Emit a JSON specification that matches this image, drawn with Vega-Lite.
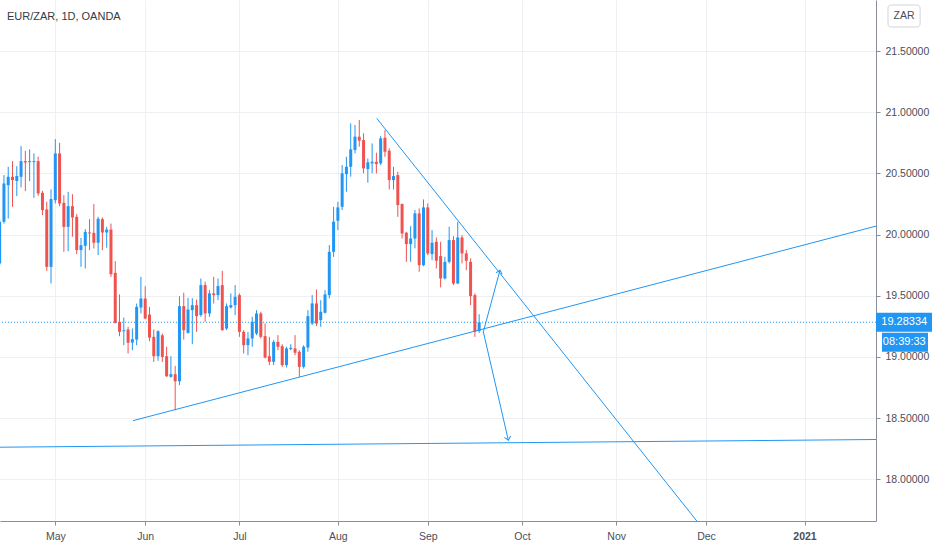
{
  "$schema": "https://vega.github.io/schema/vega-lite/v6.json",
  "autosize": {"type": "none"},
  "width": 876,
  "height": 521,
  "padding": {"left": 0, "top": 0, "right": 56, "bottom": 29},
  "background": "#ffffff",
  "config": {"view": {"stroke": null}},
  "title": {
    "text": "EUR/ZAR, 1D, OANDA",
    "anchor": "start",
    "frame": "group",
    "offset": -22,
    "dx": 7,
    "font": "Liberation Sans",
    "fontSize": 11,
    "fontWeight": "normal",
    "color": "#363a45"
  },
  "datasets": {
    "candles": [
      {"t": -13, "o": 19.763, "h": 20.123, "l": 19.750, "c": 20.104},
      {"t": -12, "o": 20.104, "h": 20.486, "l": 20.090, "c": 20.418},
      {"t": -11, "o": 20.404, "h": 20.554, "l": 20.131, "c": 20.472},
      {"t": -10, "o": 20.472, "h": 20.600, "l": 20.227, "c": 20.445},
      {"t": -9, "o": 20.437, "h": 20.559, "l": 20.314, "c": 20.478},
      {"t": -8, "o": 20.472, "h": 20.723, "l": 20.385, "c": 20.600},
      {"t": -7, "o": 20.600, "h": 20.685, "l": 20.355, "c": 20.589},
      {"t": -6, "o": 20.592, "h": 20.696, "l": 20.437, "c": 20.600},
      {"t": -5, "o": 20.592, "h": 20.663, "l": 20.300, "c": 20.600},
      {"t": -4, "o": 20.600, "h": 20.636, "l": 20.317, "c": 20.336},
      {"t": -3, "o": 20.341, "h": 20.358, "l": 20.159, "c": 20.200},
      {"t": -2, "o": 20.205, "h": 20.268, "l": 19.704, "c": 19.736},
      {"t": -1, "o": 19.736, "h": 20.369, "l": 19.600, "c": 20.290},
      {"t": 0, "o": 20.281, "h": 20.780, "l": 20.254, "c": 20.663},
      {"t": 1, "o": 20.663, "h": 20.750, "l": 20.232, "c": 20.254},
      {"t": 2, "o": 20.259, "h": 20.322, "l": 19.859, "c": 20.063},
      {"t": 3, "o": 20.063, "h": 20.349, "l": 19.864, "c": 20.232},
      {"t": 4, "o": 20.232, "h": 20.330, "l": 19.982, "c": 20.140},
      {"t": 5, "o": 20.145, "h": 20.167, "l": 19.840, "c": 19.873},
      {"t": 6, "o": 19.873, "h": 19.973, "l": 19.736, "c": 19.913},
      {"t": 7, "o": 19.908, "h": 20.044, "l": 19.723, "c": 20.022},
      {"t": 8, "o": 20.017, "h": 20.126, "l": 19.873, "c": 20.009},
      {"t": 9, "o": 20.014, "h": 20.249, "l": 19.886, "c": 19.933},
      {"t": 10, "o": 19.933, "h": 20.145, "l": 19.832, "c": 20.129},
      {"t": 11, "o": 20.126, "h": 20.140, "l": 19.873, "c": 20.017},
      {"t": 12, "o": 20.017, "h": 20.063, "l": 19.892, "c": 20.041},
      {"t": 13, "o": 20.041, "h": 20.090, "l": 19.654, "c": 19.676},
      {"t": 14, "o": 19.687, "h": 19.783, "l": 19.273, "c": 19.278},
      {"t": 15, "o": 19.287, "h": 19.510, "l": 19.169, "c": 19.205},
      {"t": 16, "o": 19.210, "h": 19.322, "l": 19.096, "c": 19.218},
      {"t": 17, "o": 19.224, "h": 19.246, "l": 19.028, "c": 19.115},
      {"t": 18, "o": 19.117, "h": 19.232, "l": 19.055, "c": 19.145},
      {"t": 19, "o": 19.142, "h": 19.436, "l": 19.096, "c": 19.409},
      {"t": 20, "o": 19.404, "h": 19.655, "l": 19.355, "c": 19.477},
      {"t": 21, "o": 19.477, "h": 19.578, "l": 19.308, "c": 19.314},
      {"t": 22, "o": 19.346, "h": 19.409, "l": 19.128, "c": 19.158},
      {"t": 23, "o": 19.164, "h": 19.224, "l": 18.959, "c": 19.006},
      {"t": 24, "o": 19.006, "h": 19.218, "l": 18.968, "c": 19.210},
      {"t": 25, "o": 19.177, "h": 19.191, "l": 18.959, "c": 19.000},
      {"t": 26, "o": 19.006, "h": 19.082, "l": 18.837, "c": 18.842},
      {"t": 27, "o": 18.837, "h": 19.006, "l": 18.831, "c": 18.859},
      {"t": 28, "o": 18.859, "h": 18.927, "l": 18.564, "c": 18.801},
      {"t": 29, "o": 18.801, "h": 19.496, "l": 18.769, "c": 19.415},
      {"t": 30, "o": 19.415, "h": 19.524, "l": 19.142, "c": 19.218},
      {"t": 31, "o": 19.197, "h": 19.483, "l": 19.191, "c": 19.387},
      {"t": 32, "o": 19.382, "h": 19.480, "l": 19.104, "c": 19.423},
      {"t": 33, "o": 19.423, "h": 19.469, "l": 19.205, "c": 19.333},
      {"t": 34, "o": 19.342, "h": 19.641, "l": 19.328, "c": 19.587},
      {"t": 35, "o": 19.587, "h": 19.614, "l": 19.287, "c": 19.355},
      {"t": 36, "o": 19.355, "h": 19.546, "l": 19.328, "c": 19.519},
      {"t": 37, "o": 19.519, "h": 19.655, "l": 19.437, "c": 19.505},
      {"t": 38, "o": 19.505, "h": 19.641, "l": 19.464, "c": 19.579},
      {"t": 39, "o": 19.587, "h": 19.704, "l": 19.213, "c": 19.219},
      {"t": 40, "o": 19.232, "h": 19.437, "l": 19.219, "c": 19.415},
      {"t": 41, "o": 19.404, "h": 19.519, "l": 19.396, "c": 19.423},
      {"t": 42, "o": 19.423, "h": 19.587, "l": 19.342, "c": 19.491},
      {"t": 43, "o": 19.505, "h": 19.519, "l": 19.164, "c": 19.205},
      {"t": 44, "o": 19.205, "h": 19.219, "l": 19.028, "c": 19.096},
      {"t": 45, "o": 19.096, "h": 19.205, "l": 19.014, "c": 19.151},
      {"t": 46, "o": 19.151, "h": 19.328, "l": 19.083, "c": 19.287},
      {"t": 47, "o": 19.192, "h": 19.382, "l": 19.178, "c": 19.355},
      {"t": 48, "o": 19.355, "h": 19.369, "l": 19.151, "c": 19.164},
      {"t": 49, "o": 19.170, "h": 19.273, "l": 18.987, "c": 18.995},
      {"t": 50, "o": 19.006, "h": 19.164, "l": 18.933, "c": 18.960},
      {"t": 51, "o": 18.960, "h": 19.137, "l": 18.933, "c": 19.123},
      {"t": 52, "o": 19.123, "h": 19.178, "l": 19.055, "c": 19.083},
      {"t": 53, "o": 19.088, "h": 19.104, "l": 18.919, "c": 18.933},
      {"t": 54, "o": 18.933, "h": 19.083, "l": 18.914, "c": 19.069},
      {"t": 55, "o": 19.064, "h": 19.104, "l": 19.055, "c": 19.074},
      {"t": 56, "o": 19.069, "h": 19.178, "l": 19.014, "c": 19.034},
      {"t": 57, "o": 19.042, "h": 19.055, "l": 18.837, "c": 18.919},
      {"t": 58, "o": 18.919, "h": 19.096, "l": 18.905, "c": 19.083},
      {"t": 59, "o": 19.077, "h": 19.382, "l": 19.042, "c": 19.333},
      {"t": 60, "o": 19.273, "h": 19.505, "l": 19.260, "c": 19.437},
      {"t": 61, "o": 19.437, "h": 19.551, "l": 19.252, "c": 19.273},
      {"t": 62, "o": 19.301, "h": 19.464, "l": 19.246, "c": 19.369},
      {"t": 63, "o": 19.361, "h": 19.546, "l": 19.355, "c": 19.511},
      {"t": 64, "o": 19.505, "h": 19.914, "l": 19.478, "c": 19.859},
      {"t": 65, "o": 19.859, "h": 20.227, "l": 19.818, "c": 20.105},
      {"t": 66, "o": 20.113, "h": 20.268, "l": 20.036, "c": 20.222},
      {"t": 67, "o": 20.227, "h": 20.568, "l": 20.200, "c": 20.500},
      {"t": 68, "o": 20.494, "h": 20.636, "l": 20.350, "c": 20.554},
      {"t": 69, "o": 20.554, "h": 20.909, "l": 20.473, "c": 20.696},
      {"t": 70, "o": 20.691, "h": 20.895, "l": 20.663, "c": 20.800},
      {"t": 71, "o": 20.800, "h": 20.936, "l": 20.718, "c": 20.767},
      {"t": 72, "o": 20.772, "h": 20.827, "l": 20.500, "c": 20.541},
      {"t": 73, "o": 20.535, "h": 20.622, "l": 20.424, "c": 20.590},
      {"t": 74, "o": 20.582, "h": 20.745, "l": 20.500, "c": 20.595},
      {"t": 75, "o": 20.595, "h": 20.669, "l": 20.500, "c": 20.576},
      {"t": 76, "o": 20.582, "h": 20.805, "l": 20.568, "c": 20.786},
      {"t": 77, "o": 20.791, "h": 20.854, "l": 20.636, "c": 20.677},
      {"t": 78, "o": 20.685, "h": 20.704, "l": 20.369, "c": 20.445},
      {"t": 79, "o": 20.445, "h": 20.554, "l": 20.369, "c": 20.478},
      {"t": 80, "o": 20.486, "h": 20.513, "l": 20.145, "c": 20.241},
      {"t": 81, "o": 20.249, "h": 20.254, "l": 19.968, "c": 20.009},
      {"t": 82, "o": 20.015, "h": 20.023, "l": 19.777, "c": 19.922},
      {"t": 83, "o": 19.922, "h": 20.069, "l": 19.777, "c": 19.968},
      {"t": 84, "o": 19.968, "h": 20.200, "l": 19.887, "c": 20.173},
      {"t": 85, "o": 20.173, "h": 20.214, "l": 19.696, "c": 19.750},
      {"t": 86, "o": 19.750, "h": 20.287, "l": 19.742, "c": 20.222},
      {"t": 87, "o": 20.222, "h": 20.254, "l": 19.832, "c": 19.846},
      {"t": 88, "o": 19.840, "h": 20.036, "l": 19.791, "c": 19.933},
      {"t": 89, "o": 19.941, "h": 19.976, "l": 19.723, "c": 19.786},
      {"t": 90, "o": 19.824, "h": 19.941, "l": 19.568, "c": 19.641},
      {"t": 91, "o": 19.641, "h": 19.818, "l": 19.633, "c": 19.777},
      {"t": 92, "o": 19.777, "h": 20.064, "l": 19.764, "c": 19.955},
      {"t": 93, "o": 19.955, "h": 19.987, "l": 19.587, "c": 19.600},
      {"t": 94, "o": 19.600, "h": 20.104, "l": 19.595, "c": 19.976},
      {"t": 95, "o": 19.976, "h": 19.995, "l": 19.764, "c": 19.846},
      {"t": 96, "o": 19.846, "h": 19.873, "l": 19.709, "c": 19.786},
      {"t": 97, "o": 19.777, "h": 19.805, "l": 19.423, "c": 19.497},
      {"t": 98, "o": 19.505, "h": 19.519, "l": 19.164, "c": 19.205},
      {"t": 99, "o": 19.211, "h": 19.349, "l": 19.197, "c": 19.283}
    ],
    "lines": [
      {"id": "support", "t": 18.15, "p": 18.479},
      {"id": "support", "t": 191.7, "p": 20.069},
      {"id": "resistance", "t": 75.08, "p": 20.950},
      {"id": "resistance", "t": 152, "p": 17.564},
      {"id": "floor", "t": -12.92, "p": 18.262},
      {"id": "floor", "t": 191.7, "p": 18.325},
      {"id": "up", "t": 99.98, "p": 19.205},
      {"id": "up", "t": 103.87, "p": 19.709},
      {"id": "down", "t": 99.98, "p": 19.205},
      {"id": "down", "t": 105.82, "p": 18.319}
    ],
    "heads": [
      {"id": "up", "t": 103.87, "p": 19.709},
      {"id": "down", "t": 105.82, "p": 18.319}
    ],
    "price": [
      {"p": 19.28334, "label": "19.28334", "timer": "08:39:33"}
    ]
  },
  "layer": [
    {
      "data": {"name": "candles"},
      "mark": {"type": "rule", "strokeWidth": 1, "clip": true},
      "encoding": {
        "x": {
          "field": "t",
          "type": "quantitative",
          "scale": {"domain": [-12.92, 191.7], "nice": false, "zero": false, "padding": 0},
          "axis": {
            "values": [0, 21, 43, 66, 87, 109, 131, 152, 175],
            "labelExpr": "['May','Jun','Jul','Aug','Sep','Oct','Nov','Dec','2021'][indexof([0,21,43,66,87,109,131,152,175], datum.value)]",
            "labelFontWeight": {"condition": {"test": "datum.value == 175", "value": "bold"}, "value": "normal"},
            "title": null,
            "grid": true,
            "gridColor": "#eef0f4",
            "domainColor": "#8a8e99",
            "tickColor": "#8a8e99",
            "tickSize": 4,
            "labelPadding": 6,
            "labelColor": "#4a4e59",
            "labelFont": "Liberation Sans",
            "labelFontSize": 10.5,
            "labelFlush": false,
            "labelOverlap": false
          }
        },
        "y": {
          "field": "l",
          "type": "quantitative",
          "scale": {"domain": [17.659, 21.917], "nice": false, "zero": false, "padding": 0},
          "axis": {
            "orient": "right",
            "values": [18, 18.5, 19, 19.5, 20, 20.5, 21, 21.5],
            "format": ".5f",
            "title": null,
            "grid": true,
            "gridColor": "#eef0f4",
            "domainColor": "#8a8e99",
            "tickColor": "#8a8e99",
            "tickSize": 4,
            "labelPadding": 5,
            "labelColor": "#4a4e59",
            "labelFont": "Liberation Sans",
            "labelFontSize": 10.5,
            "labelFlush": false,
            "labelOverlap": false
          }
        },
        "y2": {"field": "h"},
        "color": {"condition": {"test": "datum.c >= datum.o", "value": "#2196F3"}, "value": "#EF5350"}
      }
    },
    {
      "data": {"name": "candles"},
      "mark": {"type": "bar", "size": 3, "clip": true},
      "encoding": {
        "x": {"field": "t", "type": "quantitative"},
        "y": {"field": "o", "type": "quantitative"},
        "y2": {"field": "c"},
        "color": {"condition": {"test": "datum.c >= datum.o", "value": "#2196F3"}, "value": "#EF5350"}
      }
    },
    {
      "data": {"name": "price"},
      "mark": {"type": "rule", "strokeWidth": 1, "strokeDash": [1, 2], "color": "#2196F3"},
      "encoding": {
        "y": {"field": "p", "type": "quantitative"}
      }
    },
    {
      "data": {"name": "lines"},
      "mark": {"type": "line", "strokeWidth": 1, "color": "#2196F3", "clip": true},
      "encoding": {
        "x": {"field": "t", "type": "quantitative"},
        "y": {"field": "p", "type": "quantitative"},
        "detail": {"field": "id"}
      }
    },
    {
      "data": {"name": "heads"},
      "transform": [{"filter": "datum.id == 'up'"}],
      "mark": {"type": "point", "shape": "M-0.8,0.9L0,0L0.8,0.9", "filled": false, "size": 64, "strokeWidth": 1, "color": "#2196F3", "opacity": 1, "angle": 15},
      "encoding": {
        "x": {"field": "t", "type": "quantitative"},
        "y": {"field": "p", "type": "quantitative"}
      }
    },
    {
      "data": {"name": "heads"},
      "transform": [{"filter": "datum.id == 'down'"}],
      "mark": {"type": "point", "shape": "M-0.8,0.9L0,0L0.8,0.9", "filled": false, "size": 64, "strokeWidth": 1, "color": "#2196F3", "opacity": 1, "angle": 167},
      "encoding": {
        "x": {"field": "t", "type": "quantitative"},
        "y": {"field": "p", "type": "quantitative"}
      }
    },
    {
      "data": {"name": "price"},
      "mark": {"type": "bar", "orient": "horizontal", "size": 19, "color": "#2196F3"},
      "encoding": {
        "x": {"datum": 191.7},
        "x2": {"datum": 204.8},
        "y": {"field": "p", "type": "quantitative"}
      }
    },
    {
      "data": {"name": "price"},
      "mark": {"type": "bar", "orient": "horizontal", "size": 19, "color": "#2196F3", "yOffset": 20},
      "encoding": {
        "x": {"datum": 193.1},
        "x2": {"datum": 203.85},
        "y": {"field": "p", "type": "quantitative"}
      }
    },
    {
      "data": {"name": "price"},
      "mark": {"type": "text", "color": "#ffffff", "font": "Liberation Sans", "fontSize": 11, "align": "center", "baseline": "middle"},
      "encoding": {
        "x": {"datum": 198.3},
        "y": {"field": "p", "type": "quantitative"},
        "text": {"field": "label"}
      }
    },
    {
      "data": {"name": "price"},
      "mark": {"type": "text", "color": "#ffffff", "font": "Liberation Sans", "fontSize": 11, "align": "center", "baseline": "middle", "yOffset": 20},
      "encoding": {
        "x": {"datum": 198.3},
        "y": {"field": "p", "type": "quantitative"},
        "text": {"field": "timer"}
      }
    },
    {
      "data": {"values": [{"currency": "ZAR"}]},
      "mark": {"type": "rect", "fill": "#ffffff", "stroke": "#d1d4dc", "strokeWidth": 1, "cornerRadius": 3},
      "encoding": {
        "x": {"datum": 194.5},
        "x2": {"datum": 202.0},
        "y": {"datum": 21.876},
        "y2": {"datum": 21.696}
      }
    },
    {
      "data": {"values": [{"currency": "ZAR"}]},
      "mark": {"type": "text", "color": "#4a4e59", "font": "Liberation Sans", "fontSize": 10.5, "align": "center", "baseline": "middle"},
      "encoding": {
        "x": {"datum": 198.25},
        "y": {"datum": 21.786},
        "text": {"field": "currency"}
      }
    }
  ]
}
